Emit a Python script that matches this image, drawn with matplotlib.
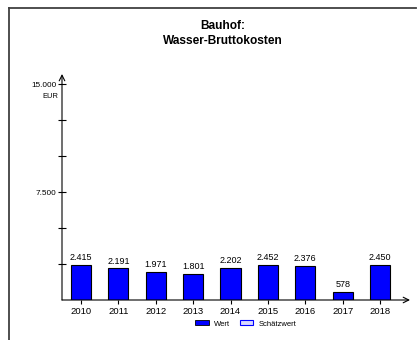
import matplotlib.pyplot as plt
from matplotlib.patches import Patch
from matplotlib.lines import Line2D

plt.rcParams['font.family'] = ['Liberation Sans', 'DejaVu Sans']

years = ['2010', '2011', '2012', '2013', '2014', '2015', '2016', '2017', '2018']
values = [2415, 2191, 1971, 1801, 2202, 2452, 2376, 578, 2450]
value_labels = ['2.415', '2.191', '1.971', '1.801', '2.202', '2.452', '2.376', '578', '2.450']
y_ticks = [2500, 5000, 7500, 10000, 12500, 15000]
y_tick_labels = ['', '', '7.500', '', '', '15.000']

W, H = 417, 340
fig = plt.figure(figsize=(W / 100, H / 100), dpi=100)

# axes placed in pixel terms
left, right, bottom, top = 62, 410, 300, 74
ax = fig.add_axes([left / W, (H - bottom) / H, (right - left) / W, (bottom - top) / H])

x = list(range(len(years)))
ax.bar(x, values, width=0.54, color='#0000ff', edgecolor='black', linewidth=0.8)

for xi, v, lab in zip(x, values, value_labels):
    ax.text(xi, v + 200, lab, ha='center', va='bottom', fontsize=6.5)

ax.set_xlim(-0.508, 8.8)
ax.set_ylim(0, 15700)

for s in ax.spines.values():
    s.set_visible(False)

# axis lines with open arrow heads
ax.annotate('', xy=(1, 0), xytext=(0, 0), xycoords='axes fraction',
            arrowprops=dict(arrowstyle='->', lw=0.8, color='black', shrinkA=0, shrinkB=0))
ax.annotate('', xy=(0, 1), xytext=(0, 0), xycoords='axes fraction',
            arrowprops=dict(arrowstyle='->', lw=0.8, color='black', shrinkA=0, shrinkB=0))

ax.set_xticks(x)
ax.set_xticklabels(years, fontsize=6.8)
ax.tick_params(axis='x', direction='out', length=3, width=0.8, pad=2)
ax.set_yticks(y_ticks)
ax.set_yticklabels(y_tick_labels, fontsize=5.9)
ax.tick_params(axis='y', direction='inout', length=6, width=0.8, pad=1)
ax.patch.set_visible(False)

ax.text(-0.012, 15000 - 650, 'EUR', transform=ax.get_yaxis_transform(),
        ha='right', va='top', fontsize=5.4)

fig.text(223 / W, 1 - 20 / H, 'Bauhof:\nWasser-Bruttokosten', ha='center', va='top',
         fontsize=8.6, fontweight='bold', linespacing=1.35)

handles = [Patch(facecolor='#0000ff', edgecolor='black', linewidth=0.6),
           Patch(facecolor='#d8d8ff', edgecolor='#0000ff', linewidth=0.8)]
fig.legend(handles, ['Wert', 'Schätzwert'], loc='center', bbox_to_anchor=(246 / W, 1 - 324 / H),
           ncol=2, frameon=False, fontsize=5.5, handlelength=1.8, handleheight=0.6,
           columnspacing=1.2, handletextpad=0.7)

# frame lines at top and left
fig.add_artist(Line2D([9 / W, 416 / W], [1 - 8 / H, 1 - 8 / H], color='#404040', lw=1.3))
fig.add_artist(Line2D([9 / W, 9 / W], [1 - 8 / H, 0], color='#404040', lw=1.3))

fig.savefig('out.png', dpi=100)
